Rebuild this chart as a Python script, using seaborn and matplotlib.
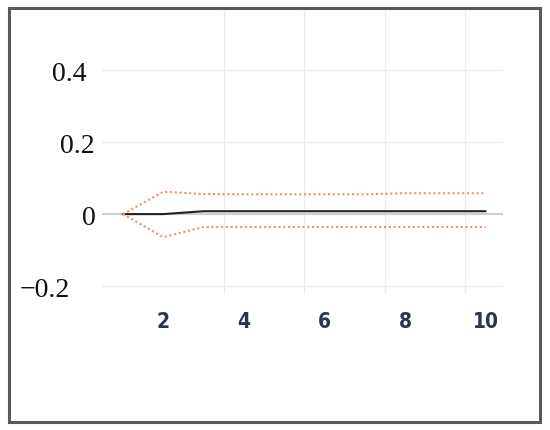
import matplotlib
matplotlib.use("Agg")
import matplotlib.pyplot as plt
import matplotlib.transforms as mtransforms
from matplotlib.patches import Rectangle
from matplotlib.ticker import FixedLocator
import numpy as np
import pandas as pd
import seaborn as sns

# values
steps = [1, 2, 3, 4, 5, 6, 7, 8, 9, 10]
response = [0.0, 0.0, 0.008, 0.008, 0.008, 0.008, 0.008, 0.008, 0.008, 0.008]
upper_band = [0.0, 0.062, 0.056, 0.055, 0.055, 0.055, 0.055, 0.058, 0.058, 0.058]
lower_band = [0.0, -0.064, -0.036, -0.036, -0.036, -0.036, -0.036, -0.036, -0.036, -0.036]

x_ticks = [2, 4, 6, 8, 10]
y_ticks = [-0.2, 0, 0.2, 0.4]
y_tick_labels = ["\u22120.2", "0", "0.2", "0.4"]

df = pd.DataFrame({
    "step": steps * 3,
    "value": response + upper_band + lower_band,
    "series": ["response"] * 10 + ["upper"] * 10 + ["lower"] * 10,
})

sns.set_style("white")

fig = plt.figure(figsize=(5.5, 4.31), dpi=100)
ax = fig.add_axes([0.1855, 0.3155, 0.729, 0.6565])

orange = "#EE9460"
sns.lineplot(data=df, x="step", y="value", hue="series", style="series",
             palette={"response": "#222222", "upper": orange, "lower": orange},
             dashes={"response": "", "upper": (1.0, 1.3), "lower": (1.0, 1.3)},
             linewidth=1.5, legend=False, ax=ax, zorder=3)

ax.set_xlim(0.48, 10.43)
ax.set_ylim(-0.222, 0.564)

# grid: horizontal at y ticks, vertical between labels
ax.set_yticks(y_ticks)
ax.set_yticklabels(y_tick_labels)
ax.set_xticks(x_ticks)
ax.set_xticklabels([str(t) for t in x_ticks])
ax.xaxis.set_minor_locator(FixedLocator([3.5, 5.5, 7.5, 9.5]))
ax.grid(False)
ax.grid(True, which="major", axis="y", color="#ececec", linewidth=1.0)
ax.grid(True, which="minor", axis="x", color="#ececec", linewidth=0.9)
ax.axhline(0, color="#c4c4c4", linewidth=1.1, zorder=2)
ax.set_axisbelow(True)

for s in ax.spines.values():
    s.set_visible(False)

ax.tick_params(axis="both", which="both", length=0)
ax.tick_params(axis="y", pad=7)
ax.tick_params(axis="x", pad=12)

for lab in ax.get_yticklabels():
    lab.set_fontfamily("Liberation Serif")
    lab.set_fontsize(20)
    lab.set_color("#111111")
for lab in ax.get_xticklabels():
    lab.set_fontfamily("DejaVu Sans")
    lab.set_fontstretch("condensed")
    lab.set_fontweight("bold")
    lab.set_fontsize(15)
    lab.set_color("#2b3550")

# irregular offsets of y labels in the reference
offsets = {"\u22120.2": -22, "0": 3, "0.2": 2, "0.4": -6}
for lab in ax.get_yticklabels():
    dx = offsets.get(lab.get_text(), 0)
    lab.set_transform(lab.get_transform() + mtransforms.ScaledTranslation(dx / 100, 0, fig.dpi_scale_trans))
ax.set_xlabel("")
ax.set_ylabel("")

# outer frame
fig.patches.append(Rectangle((9 / 550, 1 - 423 / 431), 531 / 550, 414 / 431,
                             transform=fig.transFigure, fill=False,
                             edgecolor="#5a5a5a", linewidth=2.2))

fig.savefig("out.png", dpi=100)
